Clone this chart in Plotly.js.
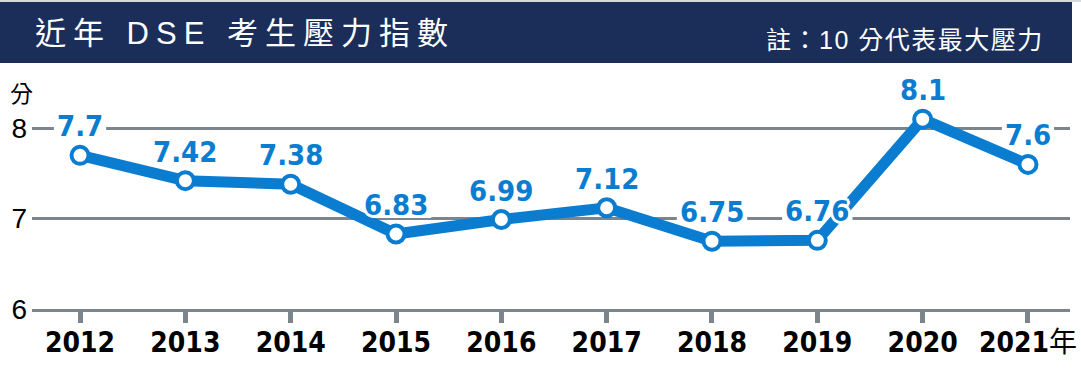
<!DOCTYPE html>
<html>
<head>
<meta charset="utf-8">
<script src="https://cdn.plot.ly/plotly-3.0.1.min.js"></script>
<style>
  html, body { margin: 0; padding: 0; background: #ffffff; }
  #chart { width: 1081px; height: 381px; }
</style>
</head>
<body>
<div id="chart"></div>
<script>
const years = [2012, 2013, 2014, 2015, 2016, 2017, 2018, 2019, 2020, 2021];
const yearLabels = ["2012", "2013", "2014", "2015", "2016", "2017", "2018", "2019", "2020", "2021<span style=\"font-weight:normal;font-family:'Noto Sans CJK TC'\">年</span>"];
const stressIndex = [7.7, 7.42, 7.38, 6.83, 6.99, 7.12, 6.75, 6.76, 8.1, 7.6];
const yTicks = [6, 7, 8];
const titleText = "近年 DSE 考生壓力指數";
const noteText = "註：10 分代表最大壓力";
const unitText = "分";

const BLUE = "#0b7dd0";
const GRID = "#7c858c";
const NAVY = "#1b2e5a";

const L = 32, R = 11, T = 74, B = 72;
const W = 1081, H = 381;
const pw = W - L - R, ph = H - T - B;
const px2x = p => (p - L) / pw;
const px2y = p => (H - B - p) / ph;

const LABEL_FAMILY = "DejaVu Sans Condensed";
const LABEL_SIZE = 29;
const LABEL_SHIFT = 29;
const HALO = [[3, 0], [-3, 0], [0, 3], [0, -3], [2, 2], [-2, -2], [2, -2], [-2, 2]];

// measure label widths so the white knock-out behind each label fits its text
const ctx = document.createElement("canvas").getContext("2d");
ctx.font = "bold " + LABEL_SIZE + "px '" + LABEL_FAMILY + "', 'DejaVu Sans'";
const labelTexts = stressIndex.map(v => String(v));

const trace = {
  x: years,
  y: stressIndex,
  type: "scatter",
  mode: "lines+markers",
  line: { color: BLUE, width: 11 },
  marker: { size: 17, color: "#ffffff", line: { color: BLUE, width: 4 } },
  hoverinfo: "x+y",
  cliponaxis: false
};

const shapes = [
  { type: "rect", xref: "paper", yref: "paper", x0: px2x(0), x1: px2x(1081), y0: px2y(0), y1: px2y(2), fillcolor: "#d6dadd", line: { width: 0 }, layer: "below" },
  { type: "rect", xref: "paper", yref: "paper", x0: px2x(0), x1: px2x(1072), y0: px2y(2), y1: px2y(63), fillcolor: NAVY, line: { width: 0 }, layer: "below" }
];
labelTexts.forEach((t, i) => {
  const half = ctx.measureText(t).width / 2 + 3;
  shapes.push({
    type: "rect", layer: "between",
    xref: "x", yref: "y",
    xsizemode: "pixel", ysizemode: "pixel",
    xanchor: years[i], yanchor: stressIndex[i],
    x0: -half, x1: half,
    y0: LABEL_SHIFT - 13, y1: LABEL_SHIFT + 13,
    fillcolor: "#ffffff", line: { width: 0 }
  });
});

const labelFont = c => ({ family: LABEL_FAMILY + ", DejaVu Sans", size: LABEL_SIZE, weight: "bold", color: c });
const annotations = [];
// white outline copies (the labels in the reference carry a white stroke where they touch the line)
labelTexts.forEach((t, i) => {
  HALO.forEach(([dx, dy]) => {
    annotations.push({
      x: years[i], y: stressIndex[i], xref: "x", yref: "y",
      text: t, showarrow: false,
      xshift: dx, yshift: LABEL_SHIFT + dy,
      xanchor: "center", yanchor: "middle",
      font: labelFont("#ffffff")
    });
  });
});
labelTexts.forEach((t, i) => {
  annotations.push({
    x: years[i], y: stressIndex[i], xref: "x", yref: "y",
    text: t, showarrow: false,
    yshift: LABEL_SHIFT,
    xanchor: "center", yanchor: "middle",
    font: labelFont(BLUE)
  });
});

annotations.push({
  xref: "paper", yref: "paper", x: px2x(33), y: px2y(34),
  xanchor: "left", yanchor: "middle", showarrow: false,
  text: "<span style=\"letter-spacing:7px\">" + titleText + "</span>",
  font: { family: "Liberation Sans, Noto Sans CJK TC", size: 31, color: "#ffffff" }
});
annotations.push({
  xref: "paper", yref: "paper", x: px2x(1046), y: px2y(40),
  xanchor: "right", yanchor: "middle", showarrow: false,
  text: "<span style=\"letter-spacing:1.5px\">" + noteText + "</span>",
  font: { family: "Liberation Sans, Noto Sans CJK TC", size: 25, color: "#ffffff" }
});
annotations.push({
  xref: "paper", yref: "paper", x: px2x(21), y: px2y(92),
  xanchor: "center", yanchor: "middle", showarrow: false,
  text: unitText,
  font: { family: "Noto Sans CJK TC", size: 23, color: "#000000" }
});

const layout = {
  width: W, height: H,
  margin: { l: L, r: R, t: T, b: B, pad: 0 },
  paper_bgcolor: "#ffffff",
  plot_bgcolor: "#ffffff",
  showlegend: false,
  xaxis: {
    range: [2011.544, 2021.399],
    tickmode: "array",
    tickvals: years,
    ticktext: yearLabels,
    ticks: "outside", ticklen: 11, tickwidth: 5, tickcolor: GRID,
    showline: true, linecolor: GRID, linewidth: 3,
    showgrid: false, zeroline: false,
    ticklabelstandoff: -5,
    tickfont: { family: "DejaVu Sans Condensed, DejaVu Sans", size: 28, color: "#000000", weight: "bold" },
    fixedrange: true
  },
  yaxis: {
    range: [6, 8.6],
    tickmode: "array",
    tickvals: yTicks,
    ticktext: yTicks.map(String),
    ticks: "", showline: false,
    showgrid: true, gridcolor: GRID, gridwidth: 3,
    zeroline: false,
    ticklabelstandoff: 4,
    tickfont: { family: "Liberation Sans", size: 28, color: "#000000" },
    fixedrange: true
  },
  shapes: shapes,
  annotations: annotations
};

Plotly.newPlot("chart", [trace], layout, { displayModeBar: false, staticPlot: true });
</script>
</body>
</html>
